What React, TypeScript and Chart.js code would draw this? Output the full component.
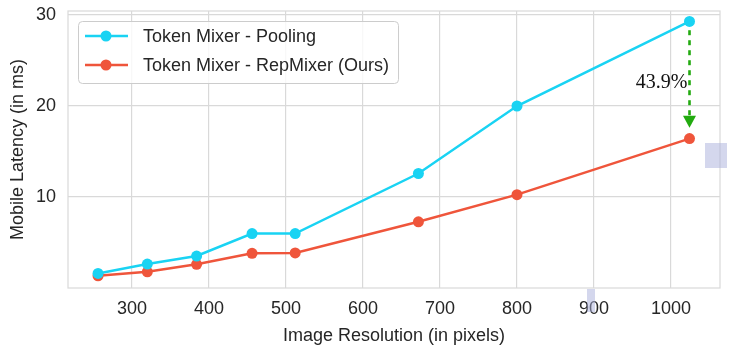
import React, { useEffect, useRef } from 'react';
import { Chart, registerables } from 'chart.js';

Chart.register(...registerables);

const resolutions = [256, 320, 384, 456, 512, 672, 800, 1024];
const poolingLatency = [1.6, 2.63, 3.51, 5.98, 5.98, 12.57, 19.98, 29.26];
const repmixerLatency = [1.34, 1.78, 2.6, 3.81, 3.85, 7.27, 10.25, 16.4];
const xTicks = [300, 400, 500, 600, 700, 800, 900, 1000];
const yTicks = [10, 20, 30];
const seriesNames = ['Token Mixer - Pooling', 'Token Mixer - RepMixer (Ours)'];
const seriesColors = ['#19D3F3', '#EF553B'];
const xTitle = 'Image Resolution (in pixels)';
const yTitle = 'Mobile Latency (in ms)';
const annotationText = '43.9%';
const arrowX = 1024;
const arrowFrom = 28.3;
const arrowTo = 17.6;
const annotationY = 22;

const SANS = "'Liberation Sans', Arial, sans-serif";
const TEXT = '#262626';
const GRID = '#d9d9d9';

const decoPlugin = {
  id: 'deco',
  beforeDatasetsDraw(chart: any) {
    const { ctx, chartArea } = chart;
    ctx.save();
    ctx.strokeStyle = GRID;
    ctx.lineWidth = 1.2;
    ctx.strokeRect(chartArea.left, chartArea.top, chartArea.right - chartArea.left, chartArea.bottom - chartArea.top);
    ctx.restore();
  },
  afterDatasetsDraw(chart: any) {
    const { ctx, chartArea, scales } = chart;
    const xs = scales.x;
    const ys = scales.y;
    const ax = xs.getPixelForValue(arrowX);
    const y0 = ys.getPixelForValue(arrowFrom);
    const y1 = ys.getPixelForValue(arrowTo);
    const headH = 12;
    const headW = 13;
    ctx.save();
    ctx.strokeStyle = '#22aa0f';
    ctx.fillStyle = '#22aa0f';
    ctx.lineWidth = 2.6;
    ctx.setLineDash([5, 5]);
    ctx.beginPath();
    ctx.moveTo(ax, y0);
    ctx.lineTo(ax, y1 - headH);
    ctx.stroke();
    ctx.setLineDash([]);
    ctx.beginPath();
    ctx.moveTo(ax - headW / 2, y1 - headH);
    ctx.lineTo(ax + headW / 2, y1 - headH);
    ctx.lineTo(ax, y1);
    ctx.closePath();
    ctx.fill();
    ctx.font = "20px 'Liberation Serif', 'Times New Roman', serif";
    ctx.fillStyle = '#111';
    ctx.textAlign = 'right';
    ctx.textBaseline = 'alphabetic';
    ctx.fillText(annotationText, ax - 2, ys.getPixelForValue(annotationY));
    ctx.restore();

    ctx.save();
    ctx.font = `18px ${SANS}`;
    const maxW = Math.max(...seriesNames.map((n) => ctx.measureText(n).width));
    const bx = chartArea.left + 10;
    const by = chartArea.top + 10;
    const textX = bx + 65;
    const bw = textX + maxW + 9 - bx;
    const bh = 62;
    ctx.fillStyle = 'rgba(255,255,255,0.8)';
    ctx.strokeStyle = '#cccccc';
    ctx.lineWidth = 1;
    ctx.beginPath();
    (ctx as any).roundRect(bx + 0.5, by + 0.5, bw, bh, 4);
    ctx.fill();
    ctx.stroke();
    seriesNames.forEach((name, i) => {
      const ry = by + 15 + i * 29;
      ctx.strokeStyle = seriesColors[i];
      ctx.fillStyle = seriesColors[i];
      ctx.lineWidth = 2.5;
      ctx.beginPath();
      ctx.moveTo(bx + 7, ry);
      ctx.lineTo(bx + 50, ry);
      ctx.stroke();
      ctx.beginPath();
      ctx.arc(bx + 28, ry, 5.5, 0, Math.PI * 2);
      ctx.fill();
      ctx.fillStyle = TEXT;
      ctx.textAlign = 'left';
      ctx.textBaseline = 'middle';
      ctx.fillText(name, textX, ry + 1);
    });
    ctx.restore();
  },
  afterDraw(chart: any) {
    const { ctx } = chart;
    ctx.save();
    ctx.fillStyle = 'rgba(170,175,220,0.5)';
    ctx.fillRect(705, 143, 22, 25);
    ctx.fillRect(587, 289, 8, 23);
    ctx.restore();
  },
};

export default function App() {
  const ref = useRef<HTMLCanvasElement>(null);
  useEffect(() => {
    const chart = new Chart(ref.current!, {
      type: 'line',
      data: {
        datasets: [
          {
            label: seriesNames[0],
            data: resolutions.map((x, i) => ({ x, y: poolingLatency[i] })),
            borderColor: seriesColors[0],
            backgroundColor: seriesColors[0],
            pointBackgroundColor: seriesColors[0],
            borderWidth: 2.5,
            pointRadius: 5.5,
            pointBorderWidth: 0,
          },
          {
            label: seriesNames[1],
            data: resolutions.map((x, i) => ({ x, y: repmixerLatency[i] })),
            borderColor: seriesColors[1],
            backgroundColor: seriesColors[1],
            pointBackgroundColor: seriesColors[1],
            borderWidth: 2.5,
            pointRadius: 5.5,
            pointBorderWidth: 0,
          },
        ],
      },
      options: {
        animation: false,
        responsive: true,
        maintainAspectRatio: false,
        layout: { padding: { top: 11, right: 9, left: 0, bottom: 0 } },
        plugins: { legend: { display: false }, tooltip: { enabled: false } },
        scales: {
          x: {
            type: 'linear',
            min: 217,
            max: 1063.6,
            afterBuildTicks: (s: any) => {
              s.ticks = xTicks.map((v) => ({ value: v }));
            },
            afterFit: (s: any) => {
              s.height = 69;
              s.paddingLeft = 0;
              s.paddingRight = 0;
            },
            grid: { color: GRID, lineWidth: 1.2, drawTicks: false },
            border: { display: false },
            ticks: {
              color: TEXT,
              font: { size: 18, family: SANS },
              padding: 10,
              maxRotation: 0,
              callback: (v: any) => String(v),
            },
            title: { display: true, text: xTitle, color: TEXT, font: { size: 18, family: SANS }, padding: { bottom: 10, top: 0 } },
          },
          y: {
            type: 'linear',
            min: 0,
            max: 30.41,
            afterBuildTicks: (s: any) => {
              s.ticks = yTicks.map((v) => ({ value: v }));
            },
            afterFit: (s: any) => {
              s.width = 68;
              s.paddingTop = 0;
              s.paddingBottom = 0;
            },
            grid: { color: GRID, lineWidth: 1.2, drawTicks: false },
            border: { display: false },
            ticks: { color: TEXT, font: { size: 18, family: SANS }, padding: 12, callback: (v: any) => String(v) },
            title: { display: true, text: yTitle, color: TEXT, font: { size: 18, family: SANS }, padding: { top: 7, bottom: 0 } },
          },
        },
      },
      plugins: [decoPlugin],
    } as any);
    return () => chart.destroy();
  }, []);
  return (
    <div style={{ position: 'absolute', left: 0, top: 0, width: 729, height: 357, background: '#fff' }}>
      <canvas ref={ref} />
    </div>
  );
}
